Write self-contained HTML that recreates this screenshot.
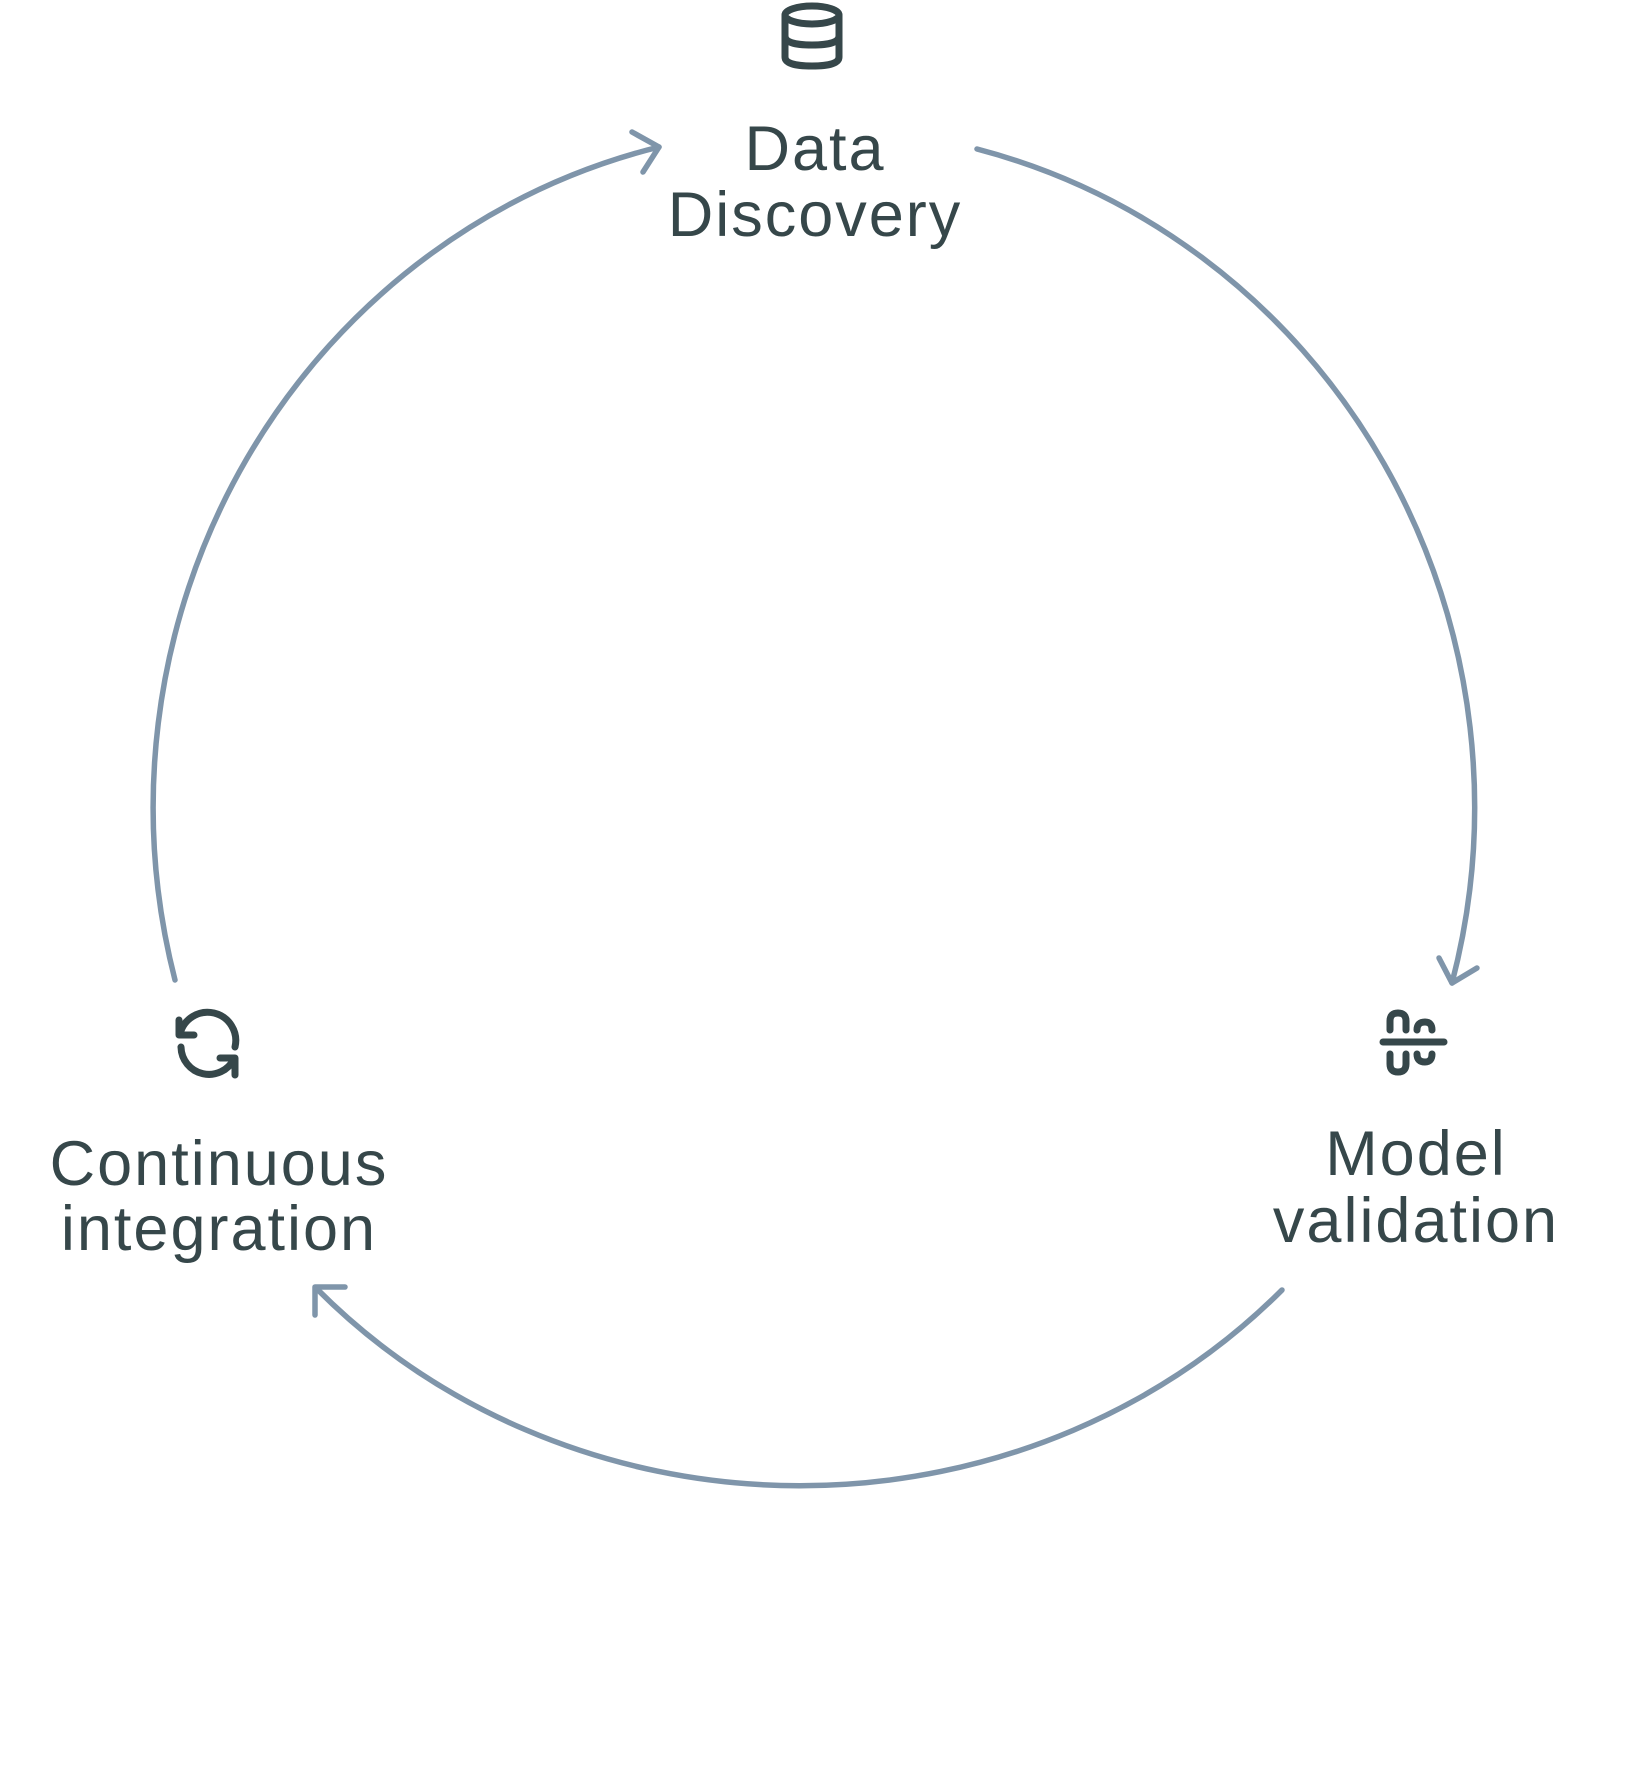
<!DOCTYPE html>
<html><head><meta charset="utf-8"><style>
html,body{margin:0;padding:0;background:#fff;}
svg{display:block;}
text{font-family:"Liberation Sans",sans-serif;font-size:63px;letter-spacing:2px;fill:#36474a;}
</style></head><body>
<svg width="1629" height="1768" viewBox="0 0 1629 1768" xmlns="http://www.w3.org/2000/svg">
<g fill="none" stroke="#7f95aa" stroke-width="5.5" stroke-linecap="round" stroke-linejoin="round">
<path d="M977 149 A661 679 0 0 1 1452 983"/>
<polyline points="1439,958 1452,983 1477,968"/>
<path d="M1282 1290 A661 620 0 0 1 317 1289"/>
<polyline points="315,1315 315,1287 345,1287"/>
<path d="M175 980 A661 679 0 0 1 659 147"/>
<polyline points="632,132 659,147 643,172"/>
</g>
<g fill="none" stroke="#36474a" stroke-width="7" stroke-linecap="round" stroke-linejoin="round">
<ellipse cx="812" cy="15" rx="27" ry="9"/>
<path d="M785 15 V57 Q785 66 812 66 Q839 66 839 57 V15"/>
<path d="M785 36 Q785 45 812 45 Q839 45 839 36"/>
<line x1="1383" y1="1042" x2="1444" y2="1042"/>
<path d="M1390 1030 V1021 Q1390 1013 1398 1013 Q1406 1013 1406 1021 V1030"/>
<path d="M1390 1054 V1064 Q1390 1072 1398 1072 Q1406 1072 1406 1064 V1054"/>
<path d="M1417 1030 Q1417 1022 1425 1022 Q1432 1022 1432 1030"/>
<path d="M1417 1054 Q1417 1062 1425 1062 Q1432 1062 1432 1054"/>
<path d="M180 1034 A28 28 0 0 1 235 1047"/>
<path d="M181 1047 A28 28 0 0 0 234 1059"/>
<polyline points="179,1020 179,1035 194,1035"/>
<polyline points="220,1058 235,1058 235,1075"/>
</g>
<text x="815" y="170" text-anchor="middle">Data</text>
<text x="815" y="236" text-anchor="middle">Discovery</text>
<text x="1416" y="1175" text-anchor="middle">Model</text>
<text x="1416" y="1242" text-anchor="middle">validation</text>
<text x="219" y="1185" text-anchor="middle">Continuous</text>
<text x="219" y="1250" text-anchor="middle">integration</text>
</svg>
</body></html>
